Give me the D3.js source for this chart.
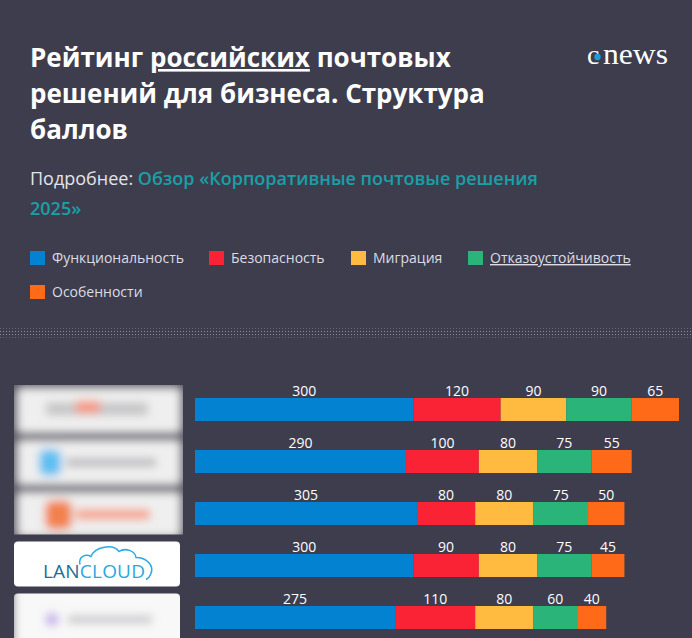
<!DOCTYPE html>
<html>
<head>
<meta charset="utf-8">
<script src="https://cdn.jsdelivr.net/npm/d3@7"></script>
<style>
  html, body { margin: 0; padding: 0; background: #3e3d4e; }
  svg { display: block; }
</style>
</head>
<body>
<div id="chart"></div>
<script>
// rows (logos are blurred in the source, only LanCloud is readable)
const products = ["Решение 1", "Решение 2", "Решение 3", "LanCloud", "Решение 5"];

const seriesNames = ["Функциональность", "Безопасность", "Миграция", "Отказоустойчивость", "Особенности"];
const seriesColors = ["#0282d0", "#fa2335", "#ffba3f", "#2ab47a", "#ff6a19"];

const functionality = [300, 290, 305, 300, 275];
const security = [120, 100, 80, 90, 110];
const migration = [90, 80, 80, 80, 80];
const faultTolerance = [90, 75, 75, 75, 60];
const features = [65, 55, 50, 45, 40];

const W = 692, H = 638;
const bg = "#3e3d4e";

const svg = d3.select("#chart")
    .append("svg")
    .attr("width", W)
    .attr("height", H);

const defs = svg.append("defs");
defs.append("filter").attr("id", "blur")
    .attr("x", "-20%").attr("y", "-20%").attr("width", "140%").attr("height", "140%")
    .append("feGaussianBlur").attr("stdDeviation", 4);

svg.append("rect").attr("width", W).attr("height", H).attr("fill", bg);

// ---- header ----
const title = svg.append("text")
    .attr("x", 30)
    .attr("font-family", "'Open Sans', sans-serif")
    .attr("font-weight", 700)
    .attr("font-size", 26)
    .attr("fill", "#ffffff");
const titleLines = [
    [["Рейтинг ", false], ["российских", true], [" почтовых", false]],
    [["решений для бизнеса. Структура", false]],
    [["баллов", false]]
];
titleLines.forEach((parts, i) => {
    parts.forEach(([txt, u], j) => {
        const ts = title.append("tspan").text(txt);
        if (j === 0) ts.attr("x", 30).attr("y", 67 + i * 36);
        if (u) ts.attr("text-decoration", "underline");
    });
});

// cnews logo
const logo = svg.append("g").attr("transform", "translate(587,64)");
logo.append("text")
    .attr("font-family", "'Liberation Serif', serif")
    .attr("font-size", 28)
    .attr("fill", "#fff")
    .text("c");
logo.append("circle").attr("cx", 10.5).attr("cy", -7).attr("r", 3.2).attr("fill", "#1a9ee0");
logo.append("text")
    .attr("x", 16)
    .attr("font-family", "'Liberation Serif', serif")
    .attr("font-size", 29)
    .attr("fill", "#fff")
    .attr("textLength", 65)
    .attr("lengthAdjust", "spacingAndGlyphs")
    .text("news");

const sub = svg.append("text")
    .attr("font-family", "'Open Sans', sans-serif")
    .attr("font-size", 18);
sub.append("tspan").attr("x", 30).attr("y", 185).attr("fill", "#e4e4e8").text("Подробнее: ");
sub.append("tspan").attr("fill", "#19a0a6").attr("font-weight", 600).text("Обзор «Корпоративные почтовые решения");
sub.append("tspan").attr("x", 30).attr("y", 215).attr("fill", "#19a0a6").attr("font-weight", 600).text("2025»");

// ---- legend ----
const legendPos = [[30, 251], [209, 251], [351, 251], [468, 251], [30, 285]];
const legend = svg.append("g").selectAll("g")
    .data(seriesNames)
    .join("g")
    .attr("transform", (d, i) => `translate(${legendPos[i][0]},${legendPos[i][1]})`);
legend.append("rect")
    .attr("width", 15).attr("height", 14)
    .attr("fill", (d, i) => seriesColors[i]);
legend.append("text")
    .attr("x", 22).attr("y", 12)
    .attr("font-family", "'Open Sans', sans-serif")
    .attr("font-size", 14)
    .attr("fill", "#dcdce2")
    .attr("text-decoration", (d, i) => i === 3 ? "underline" : null)
    .text(d => d);

// ---- dotted separator ----
const dots = svg.append("g");
d3.range(0, W, 3).forEach(x => {
    [328, 331, 334, 337].forEach((y, k) => {
        dots.append("rect")
            .attr("x", x).attr("y", y).attr("width", 1).attr("height", 1)
            .attr("fill", k === 1 || k === 2 ? "#8a8a98" : "#636272");
    });
});

// ---- bars ----
const keys = ["functionality", "security", "migration", "faultTolerance", "features"];
const table = products.map((p, i) => ({
    product: p,
    functionality: functionality[i],
    security: security[i],
    migration: migration[i],
    faultTolerance: faultTolerance[i],
    features: features[i]
}));

const stack = d3.stack().keys(keys)(table);
const totalMax = d3.max(table, d => keys.reduce((s, k) => s + d[k], 0));

const x = d3.scaleLinear().domain([0, totalMax]).range([195, 679]);
const y = d3.scaleBand().domain(products).range([398, 629]).paddingInner(29 / 52);

const layers = svg.append("g").selectAll("g")
    .data(stack)
    .join("g")
    .attr("fill", (d, i) => seriesColors[i]);

layers.selectAll("rect")
    .data(d => d)
    .join("rect")
    .attr("x", d => x(d[0]))
    .attr("y", d => y(d.data.product))
    .attr("width", d => x(d[1]) - x(d[0]))
    .attr("height", y.bandwidth());

layers.selectAll("text")
    .data(d => d)
    .join("text")
    .attr("x", d => (x(d[0]) + x(d[1])) / 2)
    .attr("y", d => y(d.data.product) - 2.5)
    .attr("text-anchor", "middle")
    .attr("font-family", "'Open Sans', sans-serif")
    .attr("font-size", 14)
    .attr("fill", "#ffffff")
    .text(d => d[1] - d[0]);

// ---- logos ----
const rowMid = p => y(p) + y.bandwidth() / 2;

// first three logos, blurred as one block
const blockTop = rowMid(products[0]) - 24.5, blockBottom = rowMid(products[2]) + 21;
defs.append("clipPath").attr("id", "clipBlock")
    .append("rect").attr("x", 14).attr("y", blockTop).attr("width", 169).attr("height", blockBottom - blockTop);
const block = svg.append("g").attr("clip-path", "url(#clipBlock)")
    .append("g").attr("filter", "url(#blur)");
block.append("rect").attr("x", 0).attr("y", blockTop - 20).attr("width", 200).attr("height", blockBottom - blockTop + 40).attr("fill", "#5a5966");
products.slice(0, 3).forEach((p, i) => {
    const m = rowMid(p);
    block.append("rect").attr("x", 18).attr("y", m - 21).attr("width", 162).attr("height", 44).attr("rx", 4).attr("fill", "#efefef");
});
// blurred contents
const m0 = rowMid(products[0]), m1 = rowMid(products[1]), m2 = rowMid(products[2]);
block.append("rect").attr("x", 46).attr("y", m0 - 7).attr("width", 102).attr("height", 13).attr("fill", "#c6c6c8");
block.append("rect").attr("x", 76).attr("y", m0 - 9).attr("width", 24).attr("height", 13).attr("fill", "#f59a84");
block.append("rect").attr("x", 39).attr("y", m1 - 12).attr("width", 22).attr("height", 26).attr("rx", 6).attr("fill", "#5fbff2");
block.append("rect").attr("x", 66).attr("y", m1 - 3).attr("width", 90).attr("height", 8).attr("fill", "#b9b9be");
block.append("rect").attr("x", 45).attr("y", m2 - 13).attr("width", 27).attr("height", 29).attr("rx", 7).attr("fill", "#f2824e");
block.append("rect").attr("x", 76).attr("y", m2 - 4).attr("width", 74).attr("height", 10).attr("fill", "#f6a088");

// LanCloud logo
const m3 = rowMid(products[3]);
const lan = svg.append("g").attr("transform", `translate(14,${m3 - 24})`);
lan.append("rect").attr("width", 166).attr("height", 45).attr("rx", 4).attr("fill", "#ffffff");
lan.append("path")
    .attr("d", "M66,23 C64,15 72,12 77,15 C81,5 99,2 105,10 C111,6 121,9 122,16 C133,16 140,24 137,32 C136,35 134,37 132,38")
    .attr("fill", "none")
    .attr("stroke", "#2aaae2")
    .attr("stroke-width", 1.5);
const lanText = lan.append("text")
    .attr("x", 29).attr("y", 36)
    .attr("font-family", "'Open Sans', sans-serif")
    .attr("font-weight", 400)
    .attr("font-size", 19)
    .attr("letter-spacing", 0.2);
lanText.append("tspan").attr("fill", "#1d6e96").text("LAN");
lanText.append("tspan").attr("fill", "#29a8e0").text("CLOUD");

// fifth logo, blurred
const m4 = rowMid(products[4]);
defs.append("clipPath").attr("id", "clip5")
    .append("rect").attr("x", 14).attr("y", m4 - 24).attr("width", 166).attr("height", 50).attr("rx", 4);
const l5 = svg.append("g").attr("clip-path", "url(#clip5)")
    .append("g").attr("filter", "url(#blur)");
l5.append("rect").attr("x", 0).attr("y", m4 - 40).attr("width", 14).attr("height", 90).attr("fill", "#5a5966");
l5.append("rect").attr("x", 14).attr("y", m4 - 40).attr("width", 180).attr("height", 90).attr("fill", "#f8f8f8");
l5.append("circle").attr("cx", 52).attr("cy", m4 + 2).attr("r", 7).attr("fill", "#c8b4ec");
l5.append("rect").attr("x", 68).attr("y", m4 - 2).attr("width", 84).attr("height", 8).attr("fill", "#c9c9cc");
</script>
</body>
</html>
